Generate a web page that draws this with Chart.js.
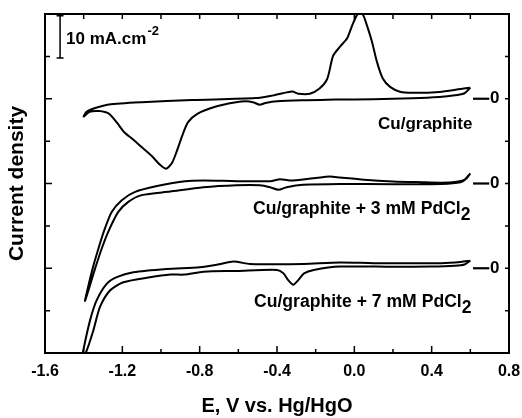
<!DOCTYPE html>
<html>
<head>
<meta charset="utf-8">
<script src="https://cdn.jsdelivr.net/npm/chart.js@4.4.0/dist/chart.umd.min.js"></script>
<style>
  html, body { margin: 0; padding: 0; background: #fff; }
</style>
</head>
<body>
<canvas id="cv" width="522" height="418"></canvas>
<script>
// E in V vs Hg/HgO, j in mA/cm2 relative to the curve's own zero line
// each loop: cathodic sweep from +0.6 V down to -1.4 V, then back
const cuE = [0.60, 0.57, 0.52, 0.44, 0.30, 0.10, -0.10, -0.25, -0.40, -0.46, -0.49, -0.52, -0.56, -0.62,
  -0.72, -0.81, -0.86, -0.89, -0.92, -0.945, -0.975, -1.005, -1.05, -1.10, -1.15, -1.19, -1.23, -1.27,
  -1.32, -1.37, -1.40,
  -1.385, -1.34, -1.27, -1.10, -0.84, -0.51, -0.42, -0.35, -0.32, -0.29, -0.23, -0.18, -0.14, -0.11,
  -0.074, -0.038, -0.012, 0.014, 0.03, 0.045, 0.066, 0.091, 0.117, 0.148, 0.185, 0.236, 0.30, 0.44, 0.55, 0.60];
const cuJ = [2.6, 1.3, 0.8, 0.4, 0.1, -0.1, -0.2, -0.35, -0.6, -1.0, -1.4, -0.9, -0.6, -0.9,
  -1.9, -3.5, -5.5, -8.7, -12.6, -15.3, -16.5, -15.6, -13.4, -11.4, -9.4, -7.9, -5.5, -3.5,
  -2.9, -3.1, -4.2,
  -3.1, -2.2, -1.35, -0.8, -0.3, 0.15, 0.8, 1.5, 1.7, 1.2, 1.2, 2.4, 4.7, 10.1,
  12.3, 14.2, 17.2, 19.8, 20.2, 19.8, 17.2, 13.5, 8.7, 4.7, 2.8, 1.65, 1.4, 1.6, 2.3, 2.6];

const pd3E = [0.60, 0.58, 0.55, 0.45, 0.20, -0.074, -0.264, -0.35, -0.393, -0.436, -0.488, -0.608, -0.781,
  -0.953, -1.10, -1.169, -1.221, -1.273, -1.307, -1.341, -1.393,
  -1.358, -1.324, -1.29, -1.255, -1.203, -1.134, -1.014, -0.876, -0.781, -0.608, -0.436, -0.384, -0.333,
  -0.212, -0.126, -0.074, 0.05, 0.20, 0.35, 0.45, 0.52, 0.57, 0.60];
const pd3J = [2.4, 1.2, 0.3, -0.1, -0.15, -0.1, -0.31, -0.87, -1.49, -0.87, -0.4, -0.4, -0.87,
  -1.89, -2.75, -4.33, -6.7, -11.4, -15.4, -20.1, -27.7,
  -20.8, -15.4, -10.6, -6.7, -3.93, -1.97, -0.55, 0.55, 0.71, 0.55, 0.55, 1.02, 0.71,
  1.25, 1.65, 1.42, 0.9, 0.5, 0.3, 0.2, 0.35, 0.9, 2.4];

const pd7E = [0.60, 0.57, 0.52, 0.40, 0.20, -0.074, -0.21, -0.26, -0.29, -0.316, -0.342, -0.367, -0.40,
  -0.61, -0.78, -0.88, -0.95, -1.057, -1.195, -1.264, -1.316, -1.35, -1.384, -1.41,
  -1.402, -1.367, -1.333, -1.281, -1.229, -1.143, -0.97, -0.80, -0.70, -0.626, -0.54, -0.436, -0.264,
  -0.074, 0.10, 0.34, 0.45, 0.55, 0.60];
const pd7J = [1.8, 0.9, 0.6, 0.4, 0.35, 0.4, -0.4, -1.2, -2.8, -3.9, -2.8, -1.2, -0.4,
  -0.64, -0.8, -1.5, -1.5, -2.12, -3.3, -5.26, -9.2, -14.7, -19.4, -22,
  -19.4, -12.3, -7.6, -3.7, -2.1, -0.94, -0.16, 0.24, 0.94, 1.58, 1.0, 0.94, 1.0,
  1.35, 1.2, 1.2, 1.2, 1.5, 1.8];

// zero line of each curve on the stacked current axis
const baselines = [60, 40, 20];
const curveNames = ['Cu/graphite', 'Cu/graphite + 3 mM PdCl', 'Cu/graphite + 7 mM PdCl'];

const FONT = '"Liberation Sans", Arial, Helvetica, sans-serif';

function toPoints(es, js, base) {
    return es.map((e, i) => ({ x: e, y: base + js[i] }));
}

const curves = [[cuE, cuJ], [pd3E, pd3J], [pd7E, pd7J]];

// frame, inward ticks, scale bar and curve notes
const frameAndNotes = {
    id: 'frameAndNotes',
    afterDraw(chart) {
        const ctx = chart.ctx;
        const { left, right, top, bottom } = chart.chartArea;
        const xs = chart.scales.x, ys = chart.scales.y;
        ctx.save();
        ctx.strokeStyle = '#000';
        ctx.fillStyle = '#000';
        ctx.lineWidth = 2;
        ctx.strokeRect(left, top, right - left, bottom - top);

        ctx.lineWidth = 1.5;
        ctx.beginPath();
        for (let i = 0; i <= 12; i++) {
            const px = xs.getPixelForValue(-1.6 + 0.2 * i);
            const len = i % 2 === 0 ? 7 : 4;
            ctx.moveTo(px, bottom); ctx.lineTo(px, bottom - len);
            ctx.moveTo(px, top); ctx.lineTo(px, top + 5);
        }
        for (let v = 0; v <= 80; v += 10) {
            const py = ys.getPixelForValue(v);
            const len = v % 20 === 0 ? 7 : 5;
            ctx.moveTo(left, py); ctx.lineTo(left + len, py);
            ctx.moveTo(right, py); ctx.lineTo(right - 4, py);
        }
        ctx.stroke();

        // 10 mA/cm2 scale bar
        const bx = xs.getPixelForValue(-1.522);
        const b1 = ys.getPixelForValue(79.6), b2 = ys.getPixelForValue(69.6);
        ctx.lineWidth = 1.5;
        ctx.beginPath();
        ctx.moveTo(bx, b1); ctx.lineTo(bx, b2);
        ctx.moveTo(bx - 3.5, b1); ctx.lineTo(bx + 3.5, b1);
        ctx.moveTo(bx - 3.5, b2); ctx.lineTo(bx + 3.5, b2);
        ctx.stroke();
        ctx.textBaseline = 'middle';
        ctx.textAlign = 'left';
        ctx.font = 'bold 17px ' + FONT;
        const t = '10 mA.cm';
        ctx.fillText(t, bx + 6, 39);
        const tw = ctx.measureText(t).width;
        ctx.font = 'bold 13px ' + FONT;
        ctx.fillText('-2', bx + 6 + tw + 1, 31);

        // zero marks at the right end of each curve
        ctx.lineWidth = 2.2;
        baselines.forEach(b => {
            const py = ys.getPixelForValue(b);
            ctx.beginPath();
            ctx.moveTo(xs.getPixelForValue(0.614), py);
            ctx.lineTo(xs.getPixelForValue(0.698), py);
            ctx.stroke();
            ctx.font = 'bold 17px ' + FONT;
            ctx.fillText('0', xs.getPixelForValue(0.702), py);
        });

        // curve notes
        const notes = [
            { x: 378, y: 124, size: 17, sub: false },
            { x: 253, y: 209, size: 17.6, sub: true },
            { x: 254, y: 302, size: 17.6, sub: true }
        ];
        notes.forEach((n, i) => {
            ctx.font = 'bold ' + n.size + 'px ' + FONT;
            ctx.fillText(curveNames[i], n.x, n.y);
            if (n.sub) {
                const w = ctx.measureText(curveNames[i]).width;
                ctx.fillText('2', n.x + w, n.y + 6);
            }
        });
        ctx.restore();
    }
};

new Chart(document.getElementById('cv'), {
    type: 'scatter',
    data: {
        datasets: curves.map((c, i) => ({
            data: toPoints(c[0], c[1], baselines[i]),
            showLine: true,
            borderColor: '#000',
            borderWidth: 2,
            pointRadius: 0,
            tension: 0.25,
            fill: false
        }))
    },
    options: {
        responsive: false,
        animation: false,
        layout: { padding: { top: 14, right: 13, left: 0, bottom: 0 } },
        plugins: { legend: { display: false }, tooltip: { enabled: false } },
        scales: {
            x: {
                type: 'linear',
                min: -1.6,
                max: 0.8,
                afterFit(s) { s.height = 65; s.paddingLeft = 0; s.paddingRight = 0; },
                grid: { display: false, drawTicks: false },
                border: { display: false },
                ticks: {
                    stepSize: 0.4,
                    padding: 9,
                    color: '#000',
                    font: { family: FONT, size: 16, weight: 'bold' },
                    callback: v => Math.abs(v) < 1e-9 ? '0.0' : Number(v).toFixed(1)
                },
                title: {
                    display: true,
                    text: 'E, V vs. Hg/HgO',
                    color: '#000',
                    font: { family: FONT, size: 20, weight: 'bold' },
                    padding: { top: 0, bottom: 0 }
                }
            },
            y: {
                type: 'linear',
                min: 0,
                max: 80,
                afterFit(s) { s.width = 45; },
                grid: { display: false, drawTicks: false },
                border: { display: false },
                ticks: { display: false, stepSize: 10 },
                title: {
                    display: true,
                    text: 'Current density',
                    color: '#000',
                    font: { family: FONT, size: 21, weight: 'bold' },
                    padding: { top: 5, bottom: 0 }
                }
            }
        }
    },
    plugins: [frameAndNotes]
});
</script>
</body>
</html>
